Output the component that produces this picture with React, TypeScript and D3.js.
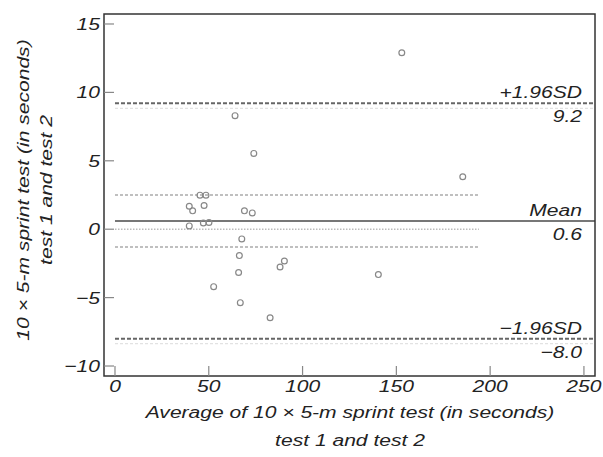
import React from "react";
import * as d3 from "d3";

// Bland–Altman data: average (x) vs difference (y)
const avgValues = [64, 74, 45.3, 48.5, 152.9, 185.4, 39.6, 41.4, 47.5, 69, 73.2, 39.6, 47.1, 50.1, 67.6, 66.3, 65.9, 90.3, 88, 52.6, 66.8, 82.7, 140.4];
const diffValues = [8.3, 5.54, 2.49, 2.49, 12.9, 3.83, 1.68, 1.34, 1.73, 1.34, 1.19, 0.24, 0.46, 0.49, -0.71, -1.93, -3.17, -2.32, -2.76, -4.2, -5.37, -6.47, -3.32];

const xTicks = [0, 50, 100, 150, 200, 250];
const yTicks = [15, 10, 5, 0, -5, -10];

const limitValues = [9.2, 0.6, -8.0];
const limitNames = ["+1.96SD", "Mean", "\u22121.96SD"];
const limitLabels = ["9.2", "0.6", "\u22128.0"];
const limitKinds = ["sd", "mean", "sd"];

const ciValues = [2.5, -1.3];
const zeroValue = 0;
const shortLineEnd = 194;

const W = 603, H = 457;
const left = 104, right = 595, top = 14, bottom = 376;
const SX = 1.24;
const FONT = "'Liberation Sans', Arial, Helvetica, sans-serif";

export default function App() {
  const x = d3.scaleLinear().domain([-5.86, 255.9]).range([left, right]);
  const y = d3.scaleLinear().domain([-10.73, 15.73]).range([bottom, top]);
  const fmt = (v: number) => (v < 0 ? "\u2212" + Math.abs(v) : String(v));
  const txt = (tx: number, ty: number, s: string, anchor: string, key?: any, size = 17) => (
    <text key={key} transform={`translate(${tx},${ty}) scale(${SX},1)`} textAnchor={anchor}
      fontFamily={FONT} fontStyle="italic" fontSize={size} fill="#222">{s}</text>
  );
  return (
    <svg width={W} height={H} style={{ position: "absolute", left: 0, top: 0, background: "#fff" }}>
      {/* CI / zero lines */}
      {ciValues.map((v, i) => (
        <line key={"ci" + i} x1={x(0)} x2={x(shortLineEnd)} y1={y(v)} y2={y(v)}
          stroke="#aaa" strokeWidth={1.4} strokeDasharray="3,2" />
      ))}
      <line x1={x(0)} x2={x(shortLineEnd)} y1={y(zeroValue)} y2={y(zeroValue)}
        stroke="#bbb" strokeWidth={1.4} strokeDasharray="1.5,1.5" />
      {/* limit lines */}
      {limitValues.map((v, i) => (
        <g key={"lim" + i}>
          {limitKinds[i] === "sd" && (
            <line x1={x(0)} x2={right} y1={y(v) + 5} y2={y(v) + 5} stroke="#e2e2e2" strokeWidth={1.2} strokeDasharray="3,2" />
          )}
          <line x1={x(0)} x2={right} y1={y(v)} y2={y(v)}
            stroke={limitKinds[i] === "mean" ? "#777" : "#666"} strokeWidth={limitKinds[i] === "mean" ? 2.2 : 2}
            strokeDasharray={limitKinds[i] === "mean" ? undefined : "4,2"} />
          {txt(582, y(v) - 5, limitNames[i], "end")}
          {txt(582, y(v) + 19, limitLabels[i], "end")}
        </g>
      ))}
      {/* points */}
      {avgValues.map((a, i) => (
        <circle key={"p" + i} cx={x(a)} cy={y(diffValues[i])} r={2.9} fill="none" stroke="#888" strokeWidth={1.2} />
      ))}
      {/* frame */}
      <rect x={left} y={top} width={right - left} height={bottom - top} fill="none" stroke="#333" strokeWidth={1.5} />
      {/* ticks */}
      {xTicks.map((t) => (
        <g key={"xt" + t}>
          <line x1={x(t)} x2={x(t)} y1={bottom} y2={bottom - 10} stroke="#888" strokeWidth={1.2} />
          {txt(x(t), 392, fmt(t), "middle")}
        </g>
      ))}
      {yTicks.map((t) => (
        <g key={"yt" + t}>
          <line x1={left} x2={left + 10} y1={y(t)} y2={y(t)} stroke="#888" strokeWidth={1.2} />
          {txt(100, y(t) + 6, fmt(t), "end")}
        </g>
      ))}
      {/* axis titles */}
      {txt(350, 418, "Average of 10 \u00d7 5-m sprint test (in seconds)", "middle")}
      {txt(350, 446, "test 1 and test 2", "middle")}
      <text transform={`translate(29,190) rotate(-90) scale(${SX},1)`} textAnchor="middle"
        fontFamily={FONT} fontStyle="italic" fontSize={17} fill="#222">10 {"\u00d7"} 5-m sprint test (in seconds)</text>
      <text transform={`translate(52,190) rotate(-90) scale(${SX},1)`} textAnchor="middle"
        fontFamily={FONT} fontStyle="italic" fontSize={17} fill="#222">test 1 and test 2</text>
    </svg>
  );
}
